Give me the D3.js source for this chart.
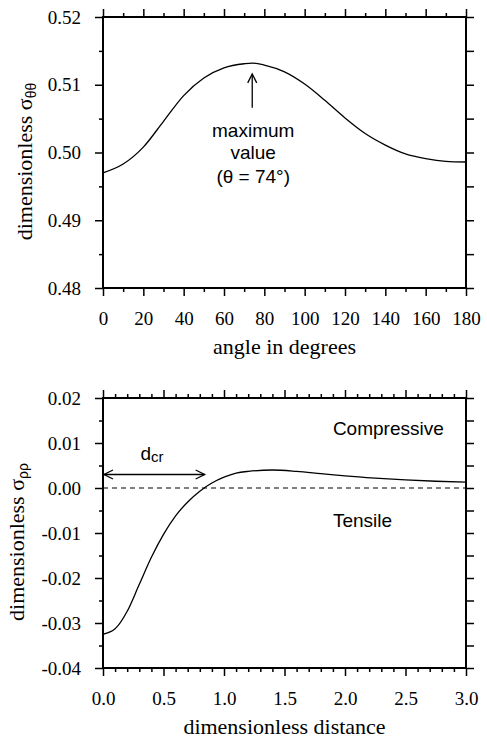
<!DOCTYPE html>
<html>
<head>
<meta charset="utf-8">
<script src="https://cdn.jsdelivr.net/npm/d3@7"></script>
<style>
  body { margin: 0; background: #fff; }
  svg { display: block; }
  .tick text { font-family: "Liberation Serif", "Times New Roman", serif; font-size: 19px; fill: #000; }
  .tick line { stroke: #000; stroke-width: 1.5; }
  .domain { display: none; }
</style>
</head>
<body>
<svg id="chart" width="487" height="738"></svg>
<script>
// top panel: dimensionless hoop stress vs angle
const angleDeg = [0, 10, 20, 30, 40, 50, 60, 70, 74, 80, 90, 100, 110, 120, 130, 140, 150, 160, 170, 180];
const sigmaThetaTheta = [0.4970, 0.4983, 0.5008, 0.5046, 0.5084, 0.5110, 0.5125, 0.5131, 0.5132, 0.5129,
    0.5119, 0.5101, 0.5077, 0.5051, 0.5028, 0.5011, 0.4998, 0.4991, 0.4987, 0.4986];
const angleTicks = [0, 20, 40, 60, 80, 100, 120, 140, 160, 180];
const angleMinor = d3.range(10, 180, 20);
const thetaTicks = [0.48, 0.49, 0.50, 0.51, 0.52];
const thetaMinor = [0.485, 0.495, 0.505, 0.515];

// bottom panel: dimensionless radial stress vs distance
const distance = [0.0, 0.1, 0.2, 0.3, 0.4, 0.5, 0.6, 0.7, 0.8, 0.9, 1.0, 1.1, 1.2, 1.4, 1.6, 1.8, 2.0, 2.25, 2.5, 2.75, 3.0];
const sigmaRhoRho = [-0.0325, -0.0313, -0.0274, -0.0214, -0.0154, -0.0103, -0.0062, -0.0031, -0.0007, 0.0011,
    0.0024, 0.0033, 0.0037, 0.0040, 0.0037, 0.0032, 0.0027, 0.0022, 0.0018, 0.0015, 0.0013];
const distTicks = [0, 0.5, 1.0, 1.5, 2.0, 2.5, 3.0];
const distMinor = d3.range(0.1, 3.0, 0.1).filter(v => Math.abs(v * 2 - Math.round(v * 2)) > 1e-6);
const rhoTicks = [-0.04, -0.03, -0.02, -0.01, 0.00, 0.01, 0.02];
const rhoMinor = [-0.035, -0.025, -0.015, -0.005, 0.005, 0.015];

// annotations (data units)
const maxAngle = 74;
const dCritical = 0.84;

const svg = d3.select('#chart');
const left = 103, right = 466;
const serif = '"Liberation Serif", "Times New Roman", serif';
const sans = '"Liberation Sans", Arial, sans-serif';

svg.append('defs').append('marker')
    .attr('id', 'head')
    .attr('viewBox', '-10 -6 12 12')
    .attr('refX', 0).attr('refY', 0)
    .attr('markerWidth', 12).attr('markerHeight', 12)
    .attr('markerUnits', 'userSpaceOnUse')
    .attr('orient', 'auto-start-reverse')
    .append('path')
    .attr('d', 'M-9,-4.5L0,0L-9,4.5')
    .attr('fill', 'none')
    .attr('stroke', '#000')
    .attr('stroke-width', 1.3);

function drawPanel(p) {
    const x = d3.scaleLinear().domain(p.xDomain).range([left, right]);
    const y = d3.scaleLinear().domain(p.yDomain).range([p.bottom, p.top]);
    const g = svg.append('g');

    // minor ticks
    g.append('g').attr('transform', `translate(${left},0)`)
        .call(d3.axisLeft(y).tickValues(p.yMinor).tickSize(4).tickFormat(''));
    g.append('g').attr('transform', `translate(0,${p.top})`)
        .call(d3.axisTop(x).tickValues(p.xMinor).tickSize(4).tickFormat(''));
    g.append('g').attr('transform', `translate(0,${p.bottom})`)
        .call(d3.axisBottom(x).tickValues(p.xMinor).tickSize(4).tickFormat(''));
    g.append('g').attr('transform', `translate(${right},0)`)
        .call(d3.axisRight(y).tickValues(p.yMinor).tickSize(8).tickFormat(''));

    // major ticks
    g.append('g').attr('transform', `translate(${left},0)`)
        .call(d3.axisLeft(y).tickValues(p.yTicks).tickSize(8).tickPadding(14).tickFormat(p.yFormat));
    g.append('g').attr('transform', `translate(0,${p.bottom})`)
        .call(d3.axisBottom(x).tickValues(p.xTicks).tickSize(8).tickPadding(16).tickFormat(p.xFormat));
    g.append('g').attr('transform', `translate(0,${p.top})`)
        .call(d3.axisTop(x).tickValues(p.xTicks).tickSize(8).tickFormat(''));
    g.append('g').attr('transform', `translate(${right},0)`)
        .call(d3.axisRight(y).tickValues(p.yTicks).tickSize(8).tickFormat(''));

    // frame
    g.append('rect')
        .attr('x', left).attr('y', p.top)
        .attr('width', right - left).attr('height', p.bottom - p.top)
        .attr('fill', 'none').attr('stroke', '#000').attr('stroke-width', 2);

    // curve
    const line = d3.line()
        .x(d => x(d[0]))
        .y(d => y(d[1]))
        .curve(d3.curveMonotoneX);
    g.append('path')
        .datum(d3.zip(p.xs, p.ys))
        .attr('d', line)
        .attr('fill', 'none')
        .attr('stroke', '#000')
        .attr('stroke-width', 1.3);

    // axis titles
    g.append('text')
        .attr('x', (left + right) / 2)
        .attr('y', p.bottom + 66)
        .attr('text-anchor', 'middle')
        .attr('font-family', serif)
        .attr('font-size', 22)
        .text(p.xLabel);

    const yl = g.append('text')
        .attr('transform', `translate(${p.yLabelX},${(p.top + p.bottom) / 2 + 9}) rotate(-90)`)
        .attr('text-anchor', 'middle')
        .attr('font-family', serif)
        .attr('font-size', 22);
    yl.append('tspan').text('dimensionless σ');
    yl.append('tspan')
        .attr('font-family', sans)
        .attr('font-size', 14)
        .attr('dy', 4)
        .text(p.ySub);

    return { g, x, y };
}

// ---- top panel ----
const upper = drawPanel({
    top: 17, bottom: 288,
    xDomain: [0, 180], yDomain: [0.48, 0.52],
    xTicks: angleTicks, xMinor: angleMinor,
    yTicks: thetaTicks, yMinor: thetaMinor,
    xFormat: d => String(d), yFormat: d => d.toFixed(2),
    xs: angleDeg, ys: sigmaThetaTheta,
    xLabel: 'angle in degrees', ySub: 'θθ', yLabelX: 32
});

upper.g.append('line')
    .attr('x1', upper.x(maxAngle)).attr('x2', upper.x(maxAngle))
    .attr('y1', upper.y(0.5066)).attr('y2', upper.y(0.5116))
    .attr('stroke', '#000').attr('stroke-width', 1.3)
    .attr('marker-end', 'url(#head)');

const annLines = ['maximum', 'value', `(θ = ${maxAngle}°)`];
const annValues = [0.5023, 0.4991, 0.4955];
upper.g.selectAll('text.ann')
    .data(annLines)
    .join('text')
    .attr('class', 'ann')
    .attr('x', upper.x(maxAngle) + 1)
    .attr('y', (d, i) => upper.y(annValues[i]))
    .attr('text-anchor', 'middle')
    .attr('font-family', sans)
    .attr('font-size', 19)
    .text(d => d);

// ---- bottom panel ----
const lower = drawPanel({
    top: 398, bottom: 668,
    xDomain: [0, 3], yDomain: [-0.04, 0.02],
    xTicks: distTicks, xMinor: distMinor,
    yTicks: rhoTicks, yMinor: rhoMinor,
    xFormat: d => d.toFixed(1), yFormat: d => d.toFixed(2),
    xs: distance, ys: sigmaRhoRho,
    xLabel: 'dimensionless distance', ySub: 'ρρ', yLabelX: 24
});

lower.g.append('line')
    .attr('x1', lower.x(0)).attr('x2', lower.x(3))
    .attr('y1', lower.y(0)).attr('y2', lower.y(0))
    .attr('stroke', '#000').attr('stroke-width', 1.2)
    .attr('stroke-dasharray', '5,4');

lower.g.append('line')
    .attr('x1', lower.x(0) + 1).attr('x2', lower.x(dCritical))
    .attr('y1', lower.y(0.003)).attr('y2', lower.y(0.003))
    .attr('stroke', '#000').attr('stroke-width', 1.3)
    .attr('marker-start', 'url(#head)')
    .attr('marker-end', 'url(#head)');

const dcr = lower.g.append('text')
    .attr('x', lower.x(0.31))
    .attr('y', lower.y(0.0062))
    .attr('font-family', sans)
    .attr('font-size', 19);
dcr.append('tspan').text('d');
dcr.append('tspan').attr('font-size', 15).attr('dy', 2).text('cr');

lower.g.append('text')
    .attr('x', lower.x(1.9)).attr('y', lower.y(0.0118))
    .attr('font-family', sans).attr('font-size', 19)
    .text('Compressive');
lower.g.append('text')
    .attr('x', lower.x(1.9)).attr('y', lower.y(-0.0087))
    .attr('font-family', sans).attr('font-size', 19)
    .text('Tensile');
</script>
</body>
</html>
